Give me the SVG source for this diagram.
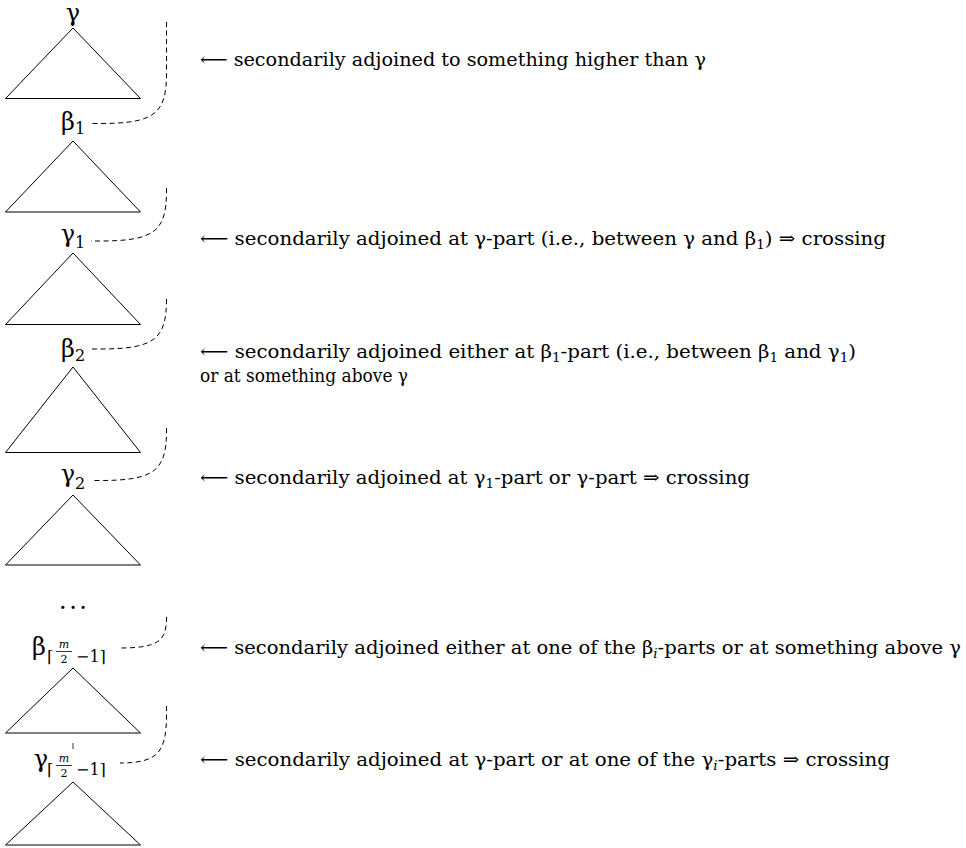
<svg xmlns="http://www.w3.org/2000/svg" width="966" height="848" viewBox="0 0 966 848" font-family="'DejaVu Serif', 'Liberation Serif', serif">
<style>
.tri{fill:none;stroke:#000;stroke-width:1}
.dash{fill:none;stroke:#000;stroke-width:1;stroke-dasharray:5 3.5}
.lbl{font-size:24px;fill:#000}
.sub{font-size:16px;fill:#000}
.ss{font-size:11px;fill:#000}
.t{font-size:19px;fill:#000}
.ts{font-size:13px}
.it{font-style:italic}
</style>
<rect width="966" height="848" fill="#fff"/>
<g id="tree-gamma">
<polygon class="tri" points="73,28 140.5,98.5 5.5,98.5"/>
<text class="lbl" x="73" y="21" text-anchor="middle" font-size="23">γ</text>
</g>
<g id="tree-beta1">
<polygon class="tri" points="73,141 140.5,212 5.5,212"/>
<text class="lbl" x="68" y="130" text-anchor="middle">β</text><text class="sub" x="80" y="134" text-anchor="middle">1</text>
</g>
<g id="tree-gamma1">
<polygon class="tri" points="73,253 140.5,324.5 5.5,324.5"/>
<text class="lbl" x="68" y="242" text-anchor="middle">γ</text><text class="sub" x="80" y="248" text-anchor="middle">1</text>
</g>
<g id="tree-beta2">
<polygon class="tri" points="73,367 140.5,452.5 5.5,452.5"/>
<text class="lbl" x="68" y="357" text-anchor="middle">β</text><text class="sub" x="80" y="361" text-anchor="middle">2</text>
</g>
<g id="tree-gamma2">
<polygon class="tri" points="73,495 140.5,565 5.5,565"/>
<text class="lbl" x="68" y="482" text-anchor="middle">γ</text><text class="sub" x="80" y="489" text-anchor="middle">2</text>
</g>
<g id="dots">
<text class="lbl" x="59" y="609" textLength="28" lengthAdjust="spacing">. . .</text>
</g>
<g id="tree-beta-m">
<polygon class="tri" points="73,668 140.5,733 5.5,733"/>
<text class="lbl" x="39" y="655" text-anchor="middle">β</text>
<text class="sub" x="47" y="662">⌈</text>
<text class="ss it" x="64" y="648" text-anchor="middle">m</text>
<line x1="56" y1="651.5" x2="72" y2="651.5" stroke="#000" stroke-width="0.8"/>
<text class="ss" x="64" y="663" text-anchor="middle">2</text>
<text class="sub" x="76" y="662">−1⌉</text>
</g>
<g id="tree-gamma-m">
<polygon class="tri" points="73,782 140.5,845 5.5,845"/>
<text class="lbl" x="41" y="767" text-anchor="middle">γ</text>
<text class="sub" x="47" y="775">⌈</text>
<text class="ss it" x="64" y="762" text-anchor="middle">m</text>
<line x1="56" y1="765.5" x2="72" y2="765.5" stroke="#000" stroke-width="0.8"/>
<text class="ss" x="64" y="777" text-anchor="middle">2</text>
<text class="sub" x="76" y="775">−1⌉</text>
</g>
<g id="connectors">
<path class="dash" d="M166.5,22 L166.5,73.5 C166.5,113.5 155,123.5 100,123.5 L91,123.5"/>
<path class="dash" d="M166.5,188 L166.5,191 C166.5,231 155,241 100,241 L91,241"/>
<path class="dash" d="M166.5,299 C166.5,339 155,349 100,349 L91,349"/>
<path class="dash" d="M166.5,428 L166.5,430.5 C166.5,470.5 155,480.5 100,480.5 L91,480.5"/>
<path class="dash" d="M166.5,617 C166.5,640 160,648 120,648"/>
<path class="dash" d="M166.5,706 L166.5,715 C166.5,752 158,763 120,763"/>
<line x1="73" y1="743" x2="73" y2="749" stroke="#000" stroke-width="0.8"/>
</g>
<g id="notes">
<text class="t" x="200" y="66" textLength="506" lengthAdjust="spacingAndGlyphs">⟵ secondarily adjoined to something higher than γ</text>
<text class="t" x="200" y="245" textLength="686" lengthAdjust="spacingAndGlyphs">⟵ secondarily adjoined at γ-part (i.e., between γ and β<tspan class="ts" dy="4">1</tspan><tspan dy="-4">) ⇒ crossing</tspan></text>
<text class="t" x="200" y="358" textLength="656" lengthAdjust="spacingAndGlyphs">⟵ secondarily adjoined either at β<tspan class="ts" dy="4">1</tspan><tspan dy="-4">-part (i.e., between β</tspan><tspan class="ts" dy="4">1</tspan><tspan dy="-4"> and γ</tspan><tspan class="ts" dy="4">1</tspan><tspan dy="-4">)</tspan></text>
<text class="t" x="200" y="382" textLength="208" lengthAdjust="spacingAndGlyphs">or at something above γ</text>
<text class="t" x="200" y="484" textLength="550" lengthAdjust="spacingAndGlyphs">⟵ secondarily adjoined at γ<tspan class="ts" dy="4">1</tspan><tspan dy="-4">-part or γ-part ⇒ crossing</tspan></text>
<text class="t" x="200" y="654" textLength="761" lengthAdjust="spacingAndGlyphs">⟵ secondarily adjoined either at one of the β<tspan class="ts it" dy="4">i</tspan><tspan dy="-4">-parts or at something above γ</tspan></text>
<text class="t" x="200" y="766" textLength="690" lengthAdjust="spacingAndGlyphs">⟵ secondarily adjoined at γ-part or at one of the γ<tspan class="ts it" dy="4">i</tspan><tspan dy="-4">-parts ⇒ crossing</tspan></text>
</g>
</svg>
